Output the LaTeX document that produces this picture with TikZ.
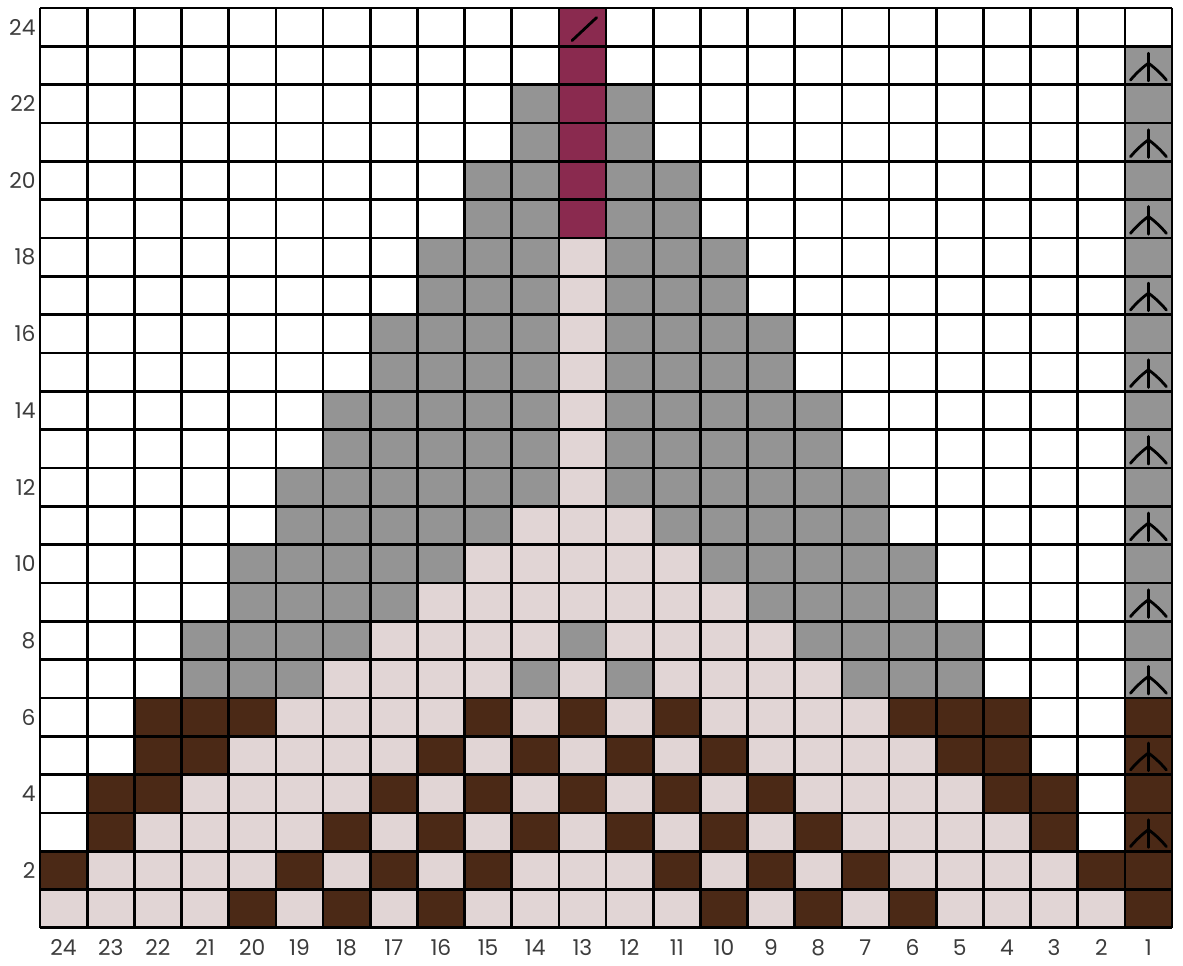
\documentclass[tikz,border=0pt]{standalone}
\usepackage{fontspec}
\setmainfont{Poppins}
\usepackage{xcolor}
\definecolor{chartW}{HTML}{FFFFFF}
\definecolor{chartG}{HTML}{949494}
\definecolor{chartL}{HTML}{E1D5D5}
\definecolor{chartB}{HTML}{4B2916}
\definecolor{chartM}{HTML}{8A2A4F}
\definecolor{labelgray}{HTML}{3C3C3C}
\usepackage{tikz}

% one chart row, cells listed from stitch 24 (left) to stitch 1 (right)
\newcommand{\chartrow}[2]{%
  \foreach \c [count=\i] in {#2} { \fill[fill=chart\c] (\i-1,#1-1) rectangle ++(1,1); }}

\begin{document}
\begin{tikzpicture}[
      x=1.179cm, y=0.958cm,
      gridline/.style={draw=black, line width=1.9pt},
      symline/.style={draw=black, line width=2pt, line cap=round},
      collabel/.style={font=\fontsize{15.5}{15.5}\selectfont, text=labelgray, anchor=center},
      rowlabel/.style={font=\fontsize{15.5}{15.5}\selectfont, text=labelgray, anchor=east, inner xsep=0pt}
    ]
    \useasboundingbox (-0.848,-0.991) rectangle (24.233,24.209);

    \chartrow{24}{W,W,W,W,W,W,W,W,W,W,W,M,W,W,W,W,W,W,W,W,W,W,W,W}
    \chartrow{23}{W,W,W,W,W,W,W,W,W,W,W,M,W,W,W,W,W,W,W,W,W,W,W,G}
    \chartrow{22}{W,W,W,W,W,W,W,W,W,W,G,M,G,W,W,W,W,W,W,W,W,W,W,G}
    \chartrow{21}{W,W,W,W,W,W,W,W,W,W,G,M,G,W,W,W,W,W,W,W,W,W,W,G}
    \chartrow{20}{W,W,W,W,W,W,W,W,W,G,G,M,G,G,W,W,W,W,W,W,W,W,W,G}
    \chartrow{19}{W,W,W,W,W,W,W,W,W,G,G,M,G,G,W,W,W,W,W,W,W,W,W,G}
    \chartrow{18}{W,W,W,W,W,W,W,W,G,G,G,L,G,G,G,W,W,W,W,W,W,W,W,G}
    \chartrow{17}{W,W,W,W,W,W,W,W,G,G,G,L,G,G,G,W,W,W,W,W,W,W,W,G}
    \chartrow{16}{W,W,W,W,W,W,W,G,G,G,G,L,G,G,G,G,W,W,W,W,W,W,W,G}
    \chartrow{15}{W,W,W,W,W,W,W,G,G,G,G,L,G,G,G,G,W,W,W,W,W,W,W,G}
    \chartrow{14}{W,W,W,W,W,W,G,G,G,G,G,L,G,G,G,G,G,W,W,W,W,W,W,G}
    \chartrow{13}{W,W,W,W,W,W,G,G,G,G,G,L,G,G,G,G,G,W,W,W,W,W,W,G}
    \chartrow{12}{W,W,W,W,W,G,G,G,G,G,G,L,G,G,G,G,G,G,W,W,W,W,W,G}
    \chartrow{11}{W,W,W,W,W,G,G,G,G,G,L,L,L,G,G,G,G,G,W,W,W,W,W,G}
    \chartrow{10}{W,W,W,W,G,G,G,G,G,L,L,L,L,L,G,G,G,G,G,W,W,W,W,G}
    \chartrow{9}{W,W,W,W,G,G,G,G,L,L,L,L,L,L,L,G,G,G,G,W,W,W,W,G}
    \chartrow{8}{W,W,W,G,G,G,G,L,L,L,L,G,L,L,L,L,G,G,G,G,W,W,W,G}
    \chartrow{7}{W,W,W,G,G,G,L,L,L,L,G,L,G,L,L,L,L,G,G,G,W,W,W,G}
    \chartrow{6}{W,W,B,B,B,L,L,L,L,B,L,B,L,B,L,L,L,L,B,B,B,W,W,B}
    \chartrow{5}{W,W,B,B,L,L,L,L,B,L,B,L,B,L,B,L,L,L,L,B,B,W,W,B}
    \chartrow{4}{W,B,B,L,L,L,L,B,L,B,L,B,L,B,L,B,L,L,L,L,B,B,W,B}
    \chartrow{3}{W,B,L,L,L,L,B,L,B,L,B,L,B,L,B,L,B,L,L,L,L,B,W,B}
    \chartrow{2}{B,L,L,L,L,B,L,B,L,B,L,L,L,B,L,B,L,B,L,L,L,L,B,B}
    \chartrow{1}{L,L,L,L,B,L,B,L,B,L,L,L,L,L,B,L,B,L,B,L,L,L,L,B}

    \foreach \k in {0,...,24} {
      \draw[gridline] (\k,0) -- (\k,24);
      \draw[gridline] (0,\k) -- (24,\k);
    }

    % stitch symbols
    \draw[symline] (11.28,23.15) -- (11.8,23.75);
    \foreach \r in {3,5,...,23} {
      \draw[symline] (23.5,\r-0.9) -- (23.5,\r-0.18);
      \draw[symline] (23.5,\r-0.44) .. controls (23.34,\r-0.58) and (23.2,\r-0.76) .. (23.12,\r-0.88);
      \draw[symline] (23.5,\r-0.44) .. controls (23.66,\r-0.58) and (23.8,\r-0.76) .. (23.88,\r-0.88);
    }

    \foreach \n [count=\i] in {24,23,...,1} { \node[collabel] (col\n) at (\i-0.5,-0.52) {\n}; }
    \foreach \r in {2,4,...,24} { \node[rowlabel] (row\r) at (-0.09,\r-0.5) {\r}; }
  \end{tikzpicture}
\end{document}
